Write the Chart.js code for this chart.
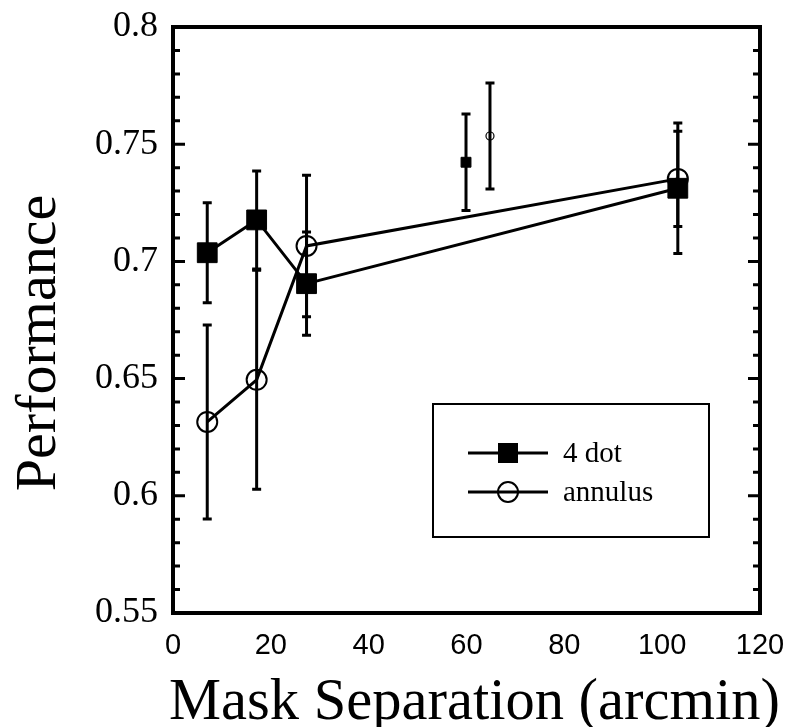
<!DOCTYPE html>
<html><head><meta charset="utf-8">
<script src="https://cdn.jsdelivr.net/npm/chart.js@4/dist/chart.umd.min.js"></script>
<style>html,body{margin:0;padding:0;background:#fff}canvas{display:block}</style>
</head><body>
<canvas id="c" width="786" height="727"></canvas>
<script>
// ---- data ----
const separations = [7, 17.1, 27.3, 103.2];
const fourDotPerf = [0.7037, 0.7177, 0.6905, 0.7312];
const fourDotErr  = [0.0213, 0.0209, 0.0220, 0.0278];
const annulusPerf = [0.6315, 0.6495, 0.7066, 0.7352];
const annulusErr  = [0.0414, 0.0467, 0.0302, 0.0203];
const extraFourDotX = [59.9];
const extraFourDotPerf = [0.7423];
const extraFourDotErr = [0.0206];
const extraAnnulusX = [64.8];
const extraAnnulusPerf = [0.7535];
const extraAnnulusErr = [0.0226];
const seriesLabels = ['4 dot', 'annulus'];
const xTickLabels = ['0', '20', '40', '60', '80', '100', '120'];
const yTickLabels = ['0.55', '0.6', '0.65', '0.7', '0.75', '0.8'];
const xTitle = 'Mask Separation (arcmin)';
const yTitle = 'Performance';

const SERIF = '"Liberation Serif", "Times New Roman", serif';
const SANS = '"Liberation Sans", Arial, sans-serif';

function pts(xs, ys) { return xs.map((x, i) => ({x: x, y: ys[i]})); }

const errorBars = {
  id: 'errorBars',
  beforeDatasetsDraw(chart) {
    const ctx = chart.ctx, y = chart.scales.y;
    ctx.save();
    ctx.strokeStyle = '#000';
    ctx.lineWidth = 3;
    chart.data.datasets.forEach((ds, di) => {
      if (!ds.errors) return;
      const meta = chart.getDatasetMeta(di);
      meta.data.forEach((el, i) => {
        const v = ds.data[i].y, e = ds.errors[i];
        const top = y.getPixelForValue(v + e), bot = y.getPixelForValue(v - e);
        const cx = el.x;
        ctx.beginPath();
        ctx.moveTo(cx, top); ctx.lineTo(cx, bot);
        ctx.moveTo(cx - 4.5, top); ctx.lineTo(cx + 4.5, top);
        ctx.moveTo(cx - 4.5, bot); ctx.lineTo(cx + 4.5, bot);
        ctx.stroke();
      });
    });
    ctx.restore();
  }
};

const frameAndLegend = {
  id: 'frameAndLegend',
  afterDraw(chart) {
    const ctx = chart.ctx, a = chart.chartArea, ys = chart.scales.y;
    ctx.save();
    ctx.strokeStyle = '#000';
    ctx.fillStyle = '#000';
    // inward ticks on left and right
    ctx.lineWidth = 3;
    for (let k = 0; k <= 25; k++) {
      const v = 0.55 + k * 0.01;
      const py = ys.getPixelForValue(v);
      const len = (k % 5 === 0) ? 12 : 7;
      ctx.beginPath();
      ctx.moveTo(a.left, py); ctx.lineTo(a.left + len, py);
      ctx.moveTo(a.right, py); ctx.lineTo(a.right - len, py);
      ctx.stroke();
    }
    // frame
    ctx.lineWidth = 4;
    ctx.strokeRect(a.left, a.top, a.right - a.left, a.bottom - a.top);
    // axis titles
    ctx.font = '58.5px ' + SERIF;
    ctx.textAlign = 'center';
    ctx.textBaseline = 'alphabetic';
    ctx.fillText(xTitle, (a.left + a.right) / 2 + 8, 719);
    ctx.save();
    ctx.translate(55, (a.top + a.bottom) / 2 + 23);
    ctx.rotate(-Math.PI / 2);
    ctx.font = '58px ' + SERIF;
    ctx.fillText(yTitle, 0, 0);
    ctx.restore();
    // legend box
    const bx = 433, by = 404, bw = 276, bh = 133;
    ctx.lineWidth = 2;
    ctx.strokeRect(bx, by, bw, bh);
    const rows = [453, 492];
    ctx.font = '29px ' + SERIF;
    ctx.textBaseline = 'middle';
    ctx.textAlign = 'left';
    [0, 1].forEach((di, r) => {
      const ds = chart.data.datasets[di];
      const yy = rows[r];
      ctx.lineWidth = 3;
      ctx.beginPath(); ctx.moveTo(468, yy); ctx.lineTo(548, yy); ctx.stroke();
      if (ds.pointStyle === 'rect') {
        ctx.fillRect(508 - 10, yy - 10, 20, 20);
      } else {
        ctx.lineWidth = 2;
        ctx.beginPath(); ctx.arc(508, yy, 10, 0, Math.PI * 2); ctx.stroke();
      }
      ctx.fillText(seriesLabels[di], 563, yy + 1);
    });
    ctx.restore();
  }
};

new Chart(document.getElementById('c'), {
  type: 'scatter',
  data: {
    datasets: [
      {
        label: seriesLabels[0], data: pts(separations, fourDotPerf), errors: fourDotErr,
        showLine: true, borderColor: '#000', borderWidth: 3,
        pointStyle: 'rect', pointRadius: 14, pointBackgroundColor: '#000',
        pointBorderColor: '#000', pointBorderWidth: 1
      },
      {
        label: seriesLabels[1], data: pts(separations, annulusPerf), errors: annulusErr,
        showLine: true, borderColor: '#000', borderWidth: 3,
        pointStyle: 'circle', pointRadius: 10, pointBackgroundColor: 'rgba(0,0,0,0)',
        pointBorderColor: '#000', pointBorderWidth: 2
      },
      {
        label: '', data: pts(extraFourDotX, extraFourDotPerf), errors: extraFourDotErr,
        showLine: false, pointStyle: 'rect', pointRadius: 7, pointBackgroundColor: '#000',
        pointBorderColor: '#000', pointBorderWidth: 1
      },
      {
        label: '', data: pts(extraAnnulusX, extraAnnulusPerf), errors: extraAnnulusErr,
        showLine: false, pointStyle: 'circle', pointRadius: 4, pointBackgroundColor: 'rgba(0,0,0,0)',
        pointBorderColor: '#000', pointBorderWidth: 1.2
      }
    ]
  },
  options: {
    responsive: false,
    animation: false,
    events: [],
    layout: { padding: { top: 27, right: 26, left: 0, bottom: 0 } },
    plugins: { legend: { display: false }, tooltip: { enabled: false } },
    scales: {
      x: {
        type: 'linear', min: 0, max: 120,
        afterFit(s) { s.height = 114; s.paddingLeft = 0; s.paddingRight = 0; s.paddingTop = 0; s.paddingBottom = 0; },
        grid: { display: false, drawTicks: false }, border: { display: false },
        ticks: { stepSize: 20, padding: 16, color: '#000', font: { family: SANS, size: 29 },
                 maxRotation: 0, autoSkip: false,
                 callback: (v, i) => xTickLabels[i] }
      },
      y: {
        type: 'linear', min: 0.55, max: 0.8,
        afterFit(s) { s.width = 173; s.paddingLeft = 0; s.paddingRight = 0; s.paddingTop = 0; s.paddingBottom = 0; },
        grid: { display: false, drawTicks: false }, border: { display: false },
        ticks: { stepSize: 0.05, padding: 15, color: '#000', font: { family: SERIF, size: 36 },
                 autoSkip: false,
                 callback: (v, i) => yTickLabels[i] }
      }
    }
  },
  plugins: [errorBars, frameAndLegend]
});
</script>
</body></html>
